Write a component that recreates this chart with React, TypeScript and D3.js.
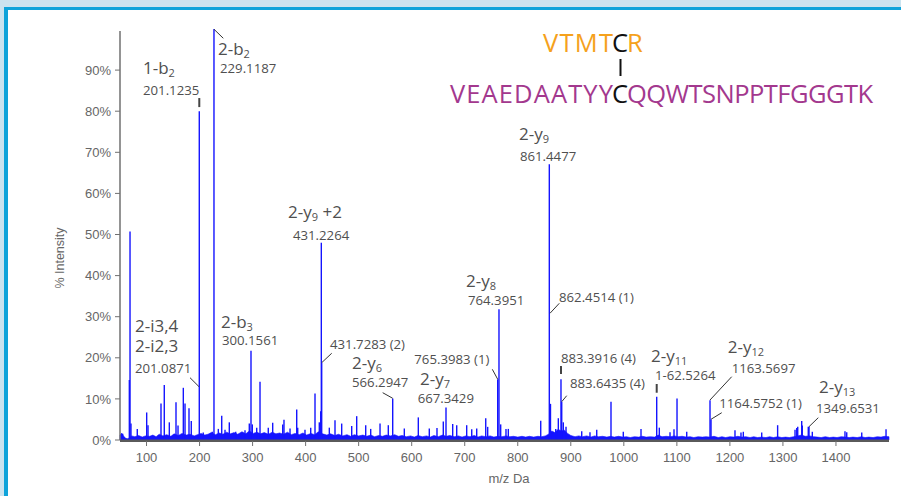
import React from 'react';
import * as d3 from 'd3';

// ---------- data ----------
const xTicks = [100, 200, 300, 400, 500, 600, 700, 800, 900, 1000, 1100, 1200, 1300, 1400];
const yTicks = [0, 10, 20, 30, 40, 50, 60, 70, 80, 90];

// [m/z, % intensity]
const majorPeaks: [number, number][] = [
  [68.9, 50.7], [67.6, 14.6], [199.5, 80], [227.2, 100], [297, 21.7], [314, 14.2],
  [429.6, 48], [430.3, 18.8], [417.7, 11.3], [383.2, 7.4], [564.2, 10.1], [664.7, 7.9],
  [764.6, 31.8], [762.2, 14.8], [859.5, 67.1], [861.7, 8.8], [881.5, 14.8], [882.9, 9.3],
  [975.8, 9.3], [1062, 10.5], [1100.3, 10.1], [1162.5, 9.7], [1164.4, 5.0],
  [1290, 3.6], [1335.4, 4.6], [1326, 2.9], [1349.2, 3.2], [1494.4, 2.6],
];

const minorPeaks: [number, number][] = [
  [53.2, 1.6], [55.1, 1.5], [70.7, 4.0], [82.6, 2.7], [100.3, 6.7], [102.8, 3.6],
  [127.3, 8.9], [133.5, 13.4], [143, 4.3], [155.6, 9.2], [159.4, 3.5], [169.4, 12.7],
  [172.6, 8.9], [180.1, 7.7], [184.4, 4.6], [207, 1.8], [224, 2.0], [235.4, 2.7],
  [241.8, 5.9], [248, 2.5], [256.1, 4.3], [268.2, 2.0], [285.7, 2.4], [293.8, 4.0],
  [299.5, 3.8], [307.8, 3.0], [329.6, 3.0], [337.9, 4.2], [356.8, 3.8], [359.2, 4.9],
  [370.6, 2.8], [385.1, 3.0], [398.8, 2.5], [409.6, 3.0], [425.8, 4.3], [428.4, 7.0],
  [444.7, 3.0], [455.4, 4.8], [468, 4.0], [486.9, 3.4], [496.3, 5.8], [513.3, 3.6],
  [522.7, 2.7], [540.3, 4.0], [555.9, 3.6], [586.1, 2.8], [612.5, 5.5], [633.2, 2.8],
  [647.7, 2.9], [659.6, 4.5], [677.3, 3.9], [684.9, 3.6], [703.7, 3.6], [713.2, 2.6],
  [722.6, 2.8], [739.6, 5.3], [743.3, 3.2], [767.8, 3.8], [777.8, 2.7], [782.2, 2.7],
  [843.3, 4.7], [871.6, 2.7], [876.5, 5.3], [885.9, 4.3], [891, 3.2], [920.6, 2.1],
  [936.2, 1.9], [948.9, 2.5], [999, 2.0], [1032.4, 2.7], [1066.9, 3.0], [1087.1, 1.9],
  [1094.6, 2.6], [1118.6, 2.0], [1209.6, 2.4], [1220.9, 1.8], [1225.3, 2.0], [1260, 1.8],
  [1322.8, 2.5], [1327.9, 3.2], [1336.5, 3.5], [1347.8, 3.2], [1355.4, 2.0], [1417, 2.1],
  [1420.3, 1.9], [1448.6, 1.8],
];

const noiseFloor: [number, number][] = [
  [50, 1.2], [53, 1.6], [57, 0.9], [61, 0.4], [65, 0.3], [72, 1.0], [78, 0.8], [85, 1.1], [92, 0.7],
  [98, 1.0], [106, 0.9], [112, 1.2], [118, 0.8], [124, 1.4], [131, 1.0], [138, 1.3], [146, 0.9],
  [152, 1.5], [160, 1.1], [167, 1.6], [175, 1.2], [182, 1.4], [190, 1.0], [196, 1.3], [203, 1.6],
  [210, 1.2], [216, 1.4], [222, 1.8], [230, 1.3], [237, 1.7], [244, 1.4], [251, 1.9], [258, 1.5],
  [265, 1.8], [272, 1.4], [280, 2.0], [287, 1.5], [294, 2.2], [301, 1.6], [308, 1.9], [315, 1.5],
  [322, 1.8], [330, 1.4], [337, 1.9], [344, 1.5], [351, 1.7], [358, 1.4], [366, 1.9], [373, 1.3],
  [380, 1.6], [388, 1.3], [395, 1.7], [402, 1.2], [410, 1.6], [417, 1.3], [424, 2.0], [432, 1.5],
  [440, 1.2], [447, 1.5], [455, 1.1], [462, 1.4], [470, 1.0], [478, 1.3], [485, 0.9], [492, 1.3],
  [500, 1.0], [508, 1.2], [515, 0.9], [523, 1.2], [530, 0.8], [538, 1.1], [545, 0.9], [552, 1.2],
  [560, 1.0], [568, 1.3], [575, 0.9], [582, 1.1], [590, 0.8], [598, 1.0], [605, 0.7], [612, 1.1],
  [620, 0.8], [628, 1.0], [635, 0.7], [642, 1.1], [650, 0.8], [658, 1.2], [665, 0.9], [672, 1.1],
  [680, 0.8], [688, 1.0], [695, 0.7], [702, 1.0], [710, 0.8], [718, 1.1], [725, 0.7], [732, 1.0],
  [740, 0.8], [748, 1.0], [755, 0.7], [762, 0.9], [770, 0.8], [778, 1.0], [785, 0.8], [792, 0.9],
  [800, 0.7], [808, 0.9], [815, 0.7], [822, 0.9], [830, 0.7], [838, 0.9], [845, 0.8], [852, 1.0],
  [858, 1.4], [864, 2.2], [870, 1.8], [876, 2.6], [882, 2.2], [888, 2.4], [894, 1.6], [900, 1.1],
  [908, 0.8], [915, 1.0], [922, 0.8], [930, 1.0], [938, 0.7], [945, 1.0], [952, 0.8], [960, 0.9],
  [968, 0.7], [975, 0.9], [982, 0.7], [990, 0.9], [998, 0.7], [1005, 0.8], [1012, 0.6], [1020, 0.8],
  [1028, 0.7], [1035, 0.9], [1042, 0.7], [1050, 0.8], [1058, 0.7], [1065, 1.2], [1072, 0.8],
  [1080, 0.9], [1088, 0.8], [1095, 1.0], [1102, 0.8], [1110, 0.9], [1118, 0.7], [1125, 0.8],
  [1132, 0.6], [1140, 0.8], [1148, 0.7], [1155, 0.8], [1162, 0.7], [1170, 0.9], [1178, 0.6],
  [1185, 0.8], [1192, 0.6], [1200, 0.8], [1208, 0.7], [1215, 0.9], [1222, 0.7], [1230, 0.8],
  [1238, 0.6], [1245, 0.8], [1252, 0.6], [1260, 0.7], [1268, 0.6], [1275, 0.8], [1282, 0.6],
  [1290, 0.8], [1298, 0.6], [1305, 0.7], [1312, 0.6], [1320, 0.8], [1328, 1.0], [1335, 1.2],
  [1342, 0.9], [1350, 1.0], [1358, 0.8], [1365, 0.7], [1372, 0.6], [1380, 0.8], [1388, 0.6],
  [1395, 0.7], [1402, 0.6], [1410, 0.8], [1418, 0.7], [1425, 0.6], [1432, 0.7], [1440, 0.6],
  [1448, 0.8], [1455, 0.6], [1462, 0.7], [1470, 0.6], [1478, 0.8], [1485, 0.7], [1492, 0.9],
  [1500, 0.8],
];

// ion labels: base text, subscript, suffix, anchor (m/z, %)
const ionLabels: { base: string; sub: string; suffix: string; mz: number; pct: number }[] = [
  { base: '1-b', sub: '2', suffix: '', mz: 93.4, pct: 89.05 },
  { base: '2-b', sub: '2', suffix: '', mz: 234.8, pct: 93.67 },
  { base: '2-y', sub: '9', suffix: ' +2', mz: 366.8, pct: 54.0 },
  { base: '2-y', sub: '9', suffix: '', mz: 802.3, pct: 73.0 },
  { base: '2-y', sub: '8', suffix: '', mz: 702.4, pct: 37.3 },
  { base: '2-b', sub: '3', suffix: '', mz: 240.4, pct: 27.18 },
  { base: '2-i3,4', sub: '', suffix: '', mz: 78.3, pct: 26.35 },
  { base: '2-i2,3', sub: '', suffix: '', mz: 78.3, pct: 21.48 },
  { base: '2-y', sub: '6', suffix: '', mz: 487.5, pct: 17.2 },
  { base: '2-y', sub: '7', suffix: '', mz: 615.7, pct: 13.38 },
  { base: '2-y', sub: '11', suffix: '', mz: 1051.2, pct: 19.05 },
  { base: '2-y', sub: '12', suffix: '', mz: 1195.9, pct: 21.1 },
  { base: '2-y', sub: '13', suffix: '', mz: 1368, pct: 11.36 },
];

const massLabels: { text: string; mz: number; pct: number }[] = [
  { text: '201.1235', mz: 93.4, pct: 83.94 },
  { text: '229.1187', mz: 238.6, pct: 89.29 },
  { text: '431.2264', mz: 376.2, pct: 48.66 },
  { text: '861.4477', mz: 804.2, pct: 67.88 },
  { text: '764.3951', mz: 706.2, pct: 32.85 },
  { text: '862.4514 (1)', mz: 877.8, pct: 33.65 },
  { text: '300.1561', mz: 242.3, pct: 23.11 },
  { text: '201.0871', mz: 78.3, pct: 16.23 },
  { text: '431.7283 (2)', mz: 446, pct: 22.14 },
  { text: '566.2947', mz: 487.5, pct: 12.82 },
  { text: '765.3983 (1)', mz: 605, pct: 18.42 },
  { text: '667.3429', mz: 611.3, pct: 9.08 },
  { text: '883.3916 (4)', mz: 881.5, pct: 18.81 },
  { text: '883.6435 (4)', mz: 898.5, pct: 12.73 },
  { text: '1-62.5264', mz: 1058.8, pct: 14.6 },
  { text: '1163.5697', mz: 1203.4, pct: 16.37 },
  { text: '1164.5752 (1)', mz: 1180, pct: 7.86 },
  { text: '1349.6531', mz: 1362.4, pct: 6.64 },
];

// leader lines [mz1, pct1, mz2, pct2]
const leaders: [number, number, number, number][] = [
  [244.8, 97.74, 227.3, 99.93],
  [182, 15.16, 199, 12.97],
  [449.2, 21.1, 430.3, 18.81],
  [545.3, 11.51, 564.2, 10.15],
  [752, 17.2, 762.2, 14.77],
  [878.3, 33.26, 860.8, 30.83],
  [892.3, 10.78, 882.9, 9.32],
  [1203.4, 15.4, 1162.5, 9.73],
  [1184.6, 6.64, 1164.4, 5.04],
  [1366.7, 5.43, 1349.2, 3.24],
];

// short vertical markers [mz, pctTop, pctBottom]
const markers: [number, number, number][] = [
  [199.5, 83.2, 81.0],
  [881.5, 18.0, 16.06],
  [1062, 13.63, 11.5],
];

const peptideTop = ['VTMT', 'C', 'R'];
const peptideBottom = ['VEAEDAATYY', 'C', 'QQWTSNPPTFGGGTK'];

// ---------- component ----------
const W = 901;
const H = 496;

export default function App() {
  const x = d3.scaleLinear().domain([50, 1500]).range([120, 889]);
  const y = d3.scaleLinear().domain([0, 100]).range([440, 29]);

  const area = d3
    .area<[number, number]>()
    .x((d) => x(d[0]))
    .y0(y(0))
    .y1((d) => y(d[1]))
    .curve(d3.curveLinear);

  const blue = '#1414ff';
  const labelColor = '#4f4f4f';
  const tickColor = '#666';
  const sans = "'Open Sans', 'Noto Sans', sans-serif";
  const arial = "'Liberation Sans', Arial, sans-serif";

  const cx = 620; // cross-link cysteine column
  const cHalf = 7;

  return (
    <svg
      width={W}
      height={H}
      viewBox={`0 0 ${W} ${H}`}
      style={{ position: 'absolute', left: 0, top: 0, display: 'block' }}
    >
      {/* frame */}
      <rect x={0} y={0} width={W} height={H} fill="#cbe3ef" />
      <rect x={4} y={7} width={W - 4} height={H - 7} fill="#0ea3da" />
      <rect x={8} y={10} width={W - 8} height={H - 10} fill="#ffffff" />

      {/* noise floor */}
      <path d={area(noiseFloor) || ''} fill={blue} stroke={blue} strokeWidth={0.6} />

      {/* peaks */}
      <g stroke={blue} strokeWidth={1.4}>
        {minorPeaks.map((d, i) => (
          <line key={'m' + i} x1={x(d[0])} x2={x(d[0])} y1={y(0)} y2={y(d[1])} />
        ))}
        {majorPeaks.map((d, i) => (
          <line key={'M' + i} x1={x(d[0])} x2={x(d[0])} y1={y(0)} y2={y(d[1])} />
        ))}
      </g>

      {/* y axis */}
      <line x1={120} x2={120} y1={31} y2={y(0)} stroke="#707070" strokeWidth={1.5} />
      {yTicks.map((t) => (
        <g key={'yt' + t}>
          <line x1={115} x2={120} y1={y(t)} y2={y(t)} stroke="#707070" strokeWidth={1} />
          <text
            x={111}
            y={y(t)}
            dy="0.36em"
            textAnchor="end"
            fontFamily={arial}
            fontSize={13}
            fill={tickColor}
          >
            {t}%
          </text>
        </g>
      ))}
      <text
        transform={`translate(64, 258) rotate(-90)`}
        textAnchor="middle"
        fontFamily={arial}
        fontSize={12.5}
        fill={tickColor}
      >
        % Intensity
      </text>

      {/* x axis */}
      <line x1={120} x2={889} y1={y(0) + 0.8} y2={y(0) + 0.8} stroke="#5a5a5a" strokeWidth={2.6} />
      {xTicks.map((t) => (
        <g key={'xt' + t}>
          <line x1={x(t)} x2={x(t)} y1={y(0) + 1} y2={y(0) + 6} stroke="#707070" strokeWidth={1} />
          <text
            x={x(t)}
            y={461.5}
            textAnchor="middle"
            fontFamily={arial}
            fontSize={13}
            fill={tickColor}
          >
            {t}
          </text>
        </g>
      ))}
      <text x={509} y={483} textAnchor="middle" fontFamily={arial} fontSize={13} fill={tickColor}>
        m/z Da
      </text>

      {/* leaders & markers */}
      <g stroke="#333" strokeWidth={1}>
        {leaders.map((d, i) => (
          <line key={'l' + i} x1={x(d[0])} y1={y(d[1])} x2={x(d[2])} y2={y(d[3])} />
        ))}
      </g>
      <g stroke="#444" strokeWidth={2}>
        {markers.map((d, i) => (
          <line key={'k' + i} x1={x(d[0])} x2={x(d[0])} y1={y(d[1])} y2={y(d[2])} />
        ))}
      </g>

      {/* ion labels */}
      {ionLabels.map((d, i) => (
        <text key={'ion' + i} x={x(d.mz)} y={y(d.pct)} fontFamily={sans} fontSize={17} fill={labelColor}>
          <tspan>{d.base}</tspan>
          {d.sub && (
            <tspan fontSize={11} dy={3}>
              {d.sub}
            </tspan>
          )}
          {d.suffix && <tspan dy={-3}>{d.suffix}</tspan>}
        </text>
      ))}
      {massLabels.map((d, i) => (
        <text key={'ms' + i} x={x(d.mz)} y={y(d.pct)} fontFamily={sans} fontSize={13.2} fill={labelColor}>
          {d.text}
        </text>
      ))}

      {/* peptide sequences */}
      <g fontFamily={sans} fontSize={25.5}>
        <text x={543} y={52} textLength={cx - cHalf - 543} lengthAdjust="spacing" fill="#f5a11c">
          {peptideTop[0]}
        </text>
        <text x={cx} y={52} textAnchor="middle" fill="#111">
          {peptideTop[1]}
        </text>
        <text x={cx + cHalf} y={52} textAnchor="start" fill="#f5a11c">
          {peptideTop[2]}
        </text>
        <line x1={cx + 0.5} x2={cx + 0.5} y1={59} y2={76} stroke="#111" strokeWidth={2} />
        <text x={450} y={103} textLength={cx - cHalf - 450} lengthAdjust="spacing" fill="#a3388e">
          {peptideBottom[0]}
        </text>
        <text x={cx} y={103} textAnchor="middle" fill="#111">
          {peptideBottom[1]}
        </text>
        <text
          x={cx + cHalf}
          y={103}
          textLength={873 - cx - cHalf}
          lengthAdjust="spacing"
          fill="#a3388e"
        >
          {peptideBottom[2]}
        </text>
      </g>
    </svg>
  );
}
